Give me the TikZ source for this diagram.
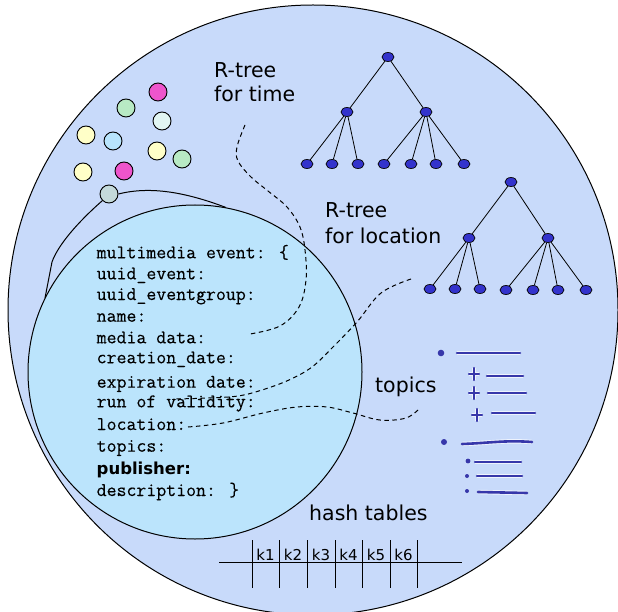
\documentclass[tikz,border=0pt]{standalone}
\usepackage{fontspec}
\setmainfont{DejaVu Sans}
\newfontfamily\codefont{Latin Modern Mono}[FakeBold=0.25]
\usetikzlibrary{shapes.geometric}
\definecolor{bigfill}{RGB}{200,218,250}
\definecolor{innerfill}{RGB}{187,228,252}
\definecolor{treeblue}{RGB}{51,51,204}
\definecolor{listblue}{RGB}{55,55,170}
\definecolor{dmag}{RGB}{238,85,204}
\definecolor{dgreen}{RGB}{184,234,196}
\definecolor{dwhite}{RGB}{226,246,242}
\definecolor{dyellow}{RGB}{255,255,200}
\definecolor{dblue}{RGB}{184,228,252}
\definecolor{dgrey}{RGB}{196,218,218}
\begin{document}
\begin{tikzpicture}[x=1pt,y=-1pt,
  tn/.style={ellipse, draw=black, fill=treeblue, minimum width=12pt, minimum height=9pt, inner sep=0pt, line width=0.7pt},
  te/.style={line width=0.8pt},
  bead/.style={circle, draw=black, minimum size=18pt, inner sep=0pt, line width=0.9pt},
  lbl/.style={font=\fontsize{20.5}{24}\selectfont, anchor=base west, inner sep=0pt},
  code/.style={font=\codefont\fontsize{19.3}{22}\selectfont, anchor=base west, inner sep=0pt},
  keylbl/.style={font=\fontsize{15}{17}\selectfont, anchor=base, inner sep=0pt},
  dashline/.style={dash pattern=on 4.5pt off 3.5pt, line width=1pt},
  listline/.style={listblue, line width=2.6pt, line cap=round, preaction={draw=white, line width=4.4pt, opacity=0.7}},
  outline/.style={line width=1pt}]
\useasboundingbox (0,0) rectangle (618,612);
\fill[white] (0,0) rectangle (618,612);

% big circle
\draw[outline, fill=bigfill] (313,310) circle[radius=305];

% coloured beads
\node[bead, fill=dmag]    (b1)  at (158,92)  {};
\node[bead, fill=dgreen]  (b2)  at (126,108) {};
\node[bead, fill=dwhite]  (b3)  at (162,121) {};
\node[bead, fill=dyellow] (b4)  at (86,135)  {};
\node[bead, fill=dblue]   (b5)  at (113,141) {};
\node[bead, fill=dyellow] (b6)  at (157,151) {};
\node[bead, fill=dgreen]  (b7)  at (182,159) {};
\node[bead, fill=dyellow] (b8)  at (83,172)  {};
\node[bead, fill=dmag]    (b9)  at (124,171) {};
\node[bead, fill=dgrey]   (b10) at (109,194) {};

% curves from the grey bead
\coordinate (ca) at (226,207.5);
\coordinate (cb) at (45,298);
\draw[outline] (b10.east) .. controls (150,186) and (185,192) .. (ca);
\draw[outline] (b10.south west) .. controls (78,222) and (58,245) .. (52,262) -- (cb);

% inner circle
\draw[outline, fill=innerfill] (195,372) circle[radius=167];

% record text
\node[code] (c1)  at (96.5,258.3) {multimedia event: \{};
\node[code] (c2)  at (96.5,279.3) {uuid\_event:};
\node[code] (c3)  at (96.5,300)   {uuid\_eventgroup:};
\node[code] (c4)  at (96.5,321.7) {name:};
\node[code] (c5)  at (96.5,343.3) {media data:};
\node[code] (c6)  at (96.5,363.3) {creation\_date:};
\node[code] (c7)  at (96.5,387.7) {expiration date:};
\node[code] (c8)  at (96.5,407.3) {run of validity:};
\node[code] (c9)  at (96.5,430)   {location:};
\node[code] (c10) at (96.5,451.7) {topics:};
\node[anchor=base west, inner sep=0pt, font=\bfseries\fontsize{16.5}{20}\selectfont] (c11) at (96.5,474) {publisher:};
\node[code] (c12) at (96.5,496)   {description: \}};

% top R-tree
\node[tn] (r)  at (388,57) {};
\node[tn] (m1) at (347,112) {};
\node[tn] (m2) at (426,112) {};
\node[tn] (l1) at (307,164) {};
\node[tn] (l2) at (332,164) {};
\node[tn] (l3) at (358,164) {};
\node[tn] (l4) at (384,164) {};
\node[tn] (l5) at (411,164) {};
\node[tn] (l6) at (436,164) {};
\node[tn] (l7) at (464,164) {};
\draw[te] (r) -- (m1) (r) -- (m2)
  (m1) -- (l1) (m1) -- (l2) (m1) -- (l3)
  (m2) -- (l4) (m2) -- (l5) (m2) -- (l6) (m2) -- (l7);

% location R-tree
\node[tn] (s)  at (511,182) {};
\node[tn] (n1) at (469,238) {};
\node[tn] (n2) at (548,238) {};
\node[tn] (k1) at (430,289) {};
\node[tn] (k2) at (455,289) {};
\node[tn] (k3) at (480,289) {};
\node[tn] (k4) at (506,290) {};
\node[tn] (k5) at (533,290) {};
\node[tn] (k6) at (558,290) {};
\node[tn] (k7) at (586,290) {};
\draw[te] (s) -- (n1) (s) -- (n2)
  (n1) -- (k1) (n1) -- (k2) (n1) -- (k3)
  (n2) -- (k4) (n2) -- (k5) (n2) -- (k6) (n2) -- (k7);

% labels
\node[lbl] (t1) at (214,77.3) {R-tree};
\node[lbl] (t2) at (214,101.7) {for time};
\node[lbl] (t3) at (325,217.7) {R-tree};
\node[lbl] (t4) at (325,243.3) {for location};
\node[lbl] (t5) at (375,392.7) {topics};
\node[lbl] (t6) at (309,520.7) {hash tables};

% dashed links
\coordinate (d1a) at (245,125);
\coordinate (d1b) at (250,334);
\draw[dashline] plot[smooth, tension=0.6] coordinates {(d1a) (237,147) (238,161) (251,177) (268,191) (287,207) (300,227) (305,250) (306,280) (299,307) (280,326) (d1b)};
\coordinate (d2a) at (411,279);
\coordinate (d2b) at (176,399);
\draw[dashline] plot[smooth, tension=0.6] coordinates {(d2a) (381,293) (357,322) (333,347) (312,367) (289,380) (262,390) (238,396) (208,398) (d2b)};
\coordinate (d3a) at (188,427);
\coordinate (d3b) at (420,408);
\draw[dashline] plot[smooth, tension=0.6] coordinates {(d3a) (223,423) (263,413) (297,407) (327,407) (353,413) (380,420) (406,418) (d3b)};

% topics list
\fill[listblue] (441,353) circle[radius=3.3];
\draw[listline] (457,353) -- (520,353);
\draw[listline, line width=2.2pt] (469,374) -- (479,374) (474,368) -- (474,380);
\draw[listline] (487,376) -- (523,376);
\draw[listline, line width=2.2pt] (469,393) -- (479,393) (474,387) -- (474,399);
\draw[listline] (488,393) -- (526,393);
\draw[listline, line width=2.2pt] (472,415) -- (482,415) (477,409) -- (477,421);
\draw[listline] (492,413) -- (535,413);
\fill[listblue] (444,442) circle[radius=3];
\draw[listline] (462,444) .. controls (490,443) and (505,440) .. (532,442);
\fill[listblue] (468,461) circle[radius=2.4];
\draw[listline] (475,462) -- (521,462);
\fill[listblue] (467,476) circle[radius=2];
\draw[listline] (477,476) -- (522,476);
\fill[listblue] (467,491) circle[radius=2];
\draw[listline] (478,492) -- (527,493);

% hash table
\draw[line width=1pt] (219,562) -- (462,562);
\foreach \x in {252,279,307,335,362,390,417} {
  \draw[line width=1pt] (\x,540) -- (\x,588);
}
\node[keylbl] (h1) at (265.5,560) {k1};
\node[keylbl] (h2) at (293,560) {k2};
\node[keylbl] (h3) at (321,560) {k3};
\node[keylbl] (h4) at (348.5,560) {k4};
\node[keylbl] (h5) at (376,560) {k5};
\node[keylbl] (h6) at (403.5,560) {k6};
\end{tikzpicture}
\end{document}
